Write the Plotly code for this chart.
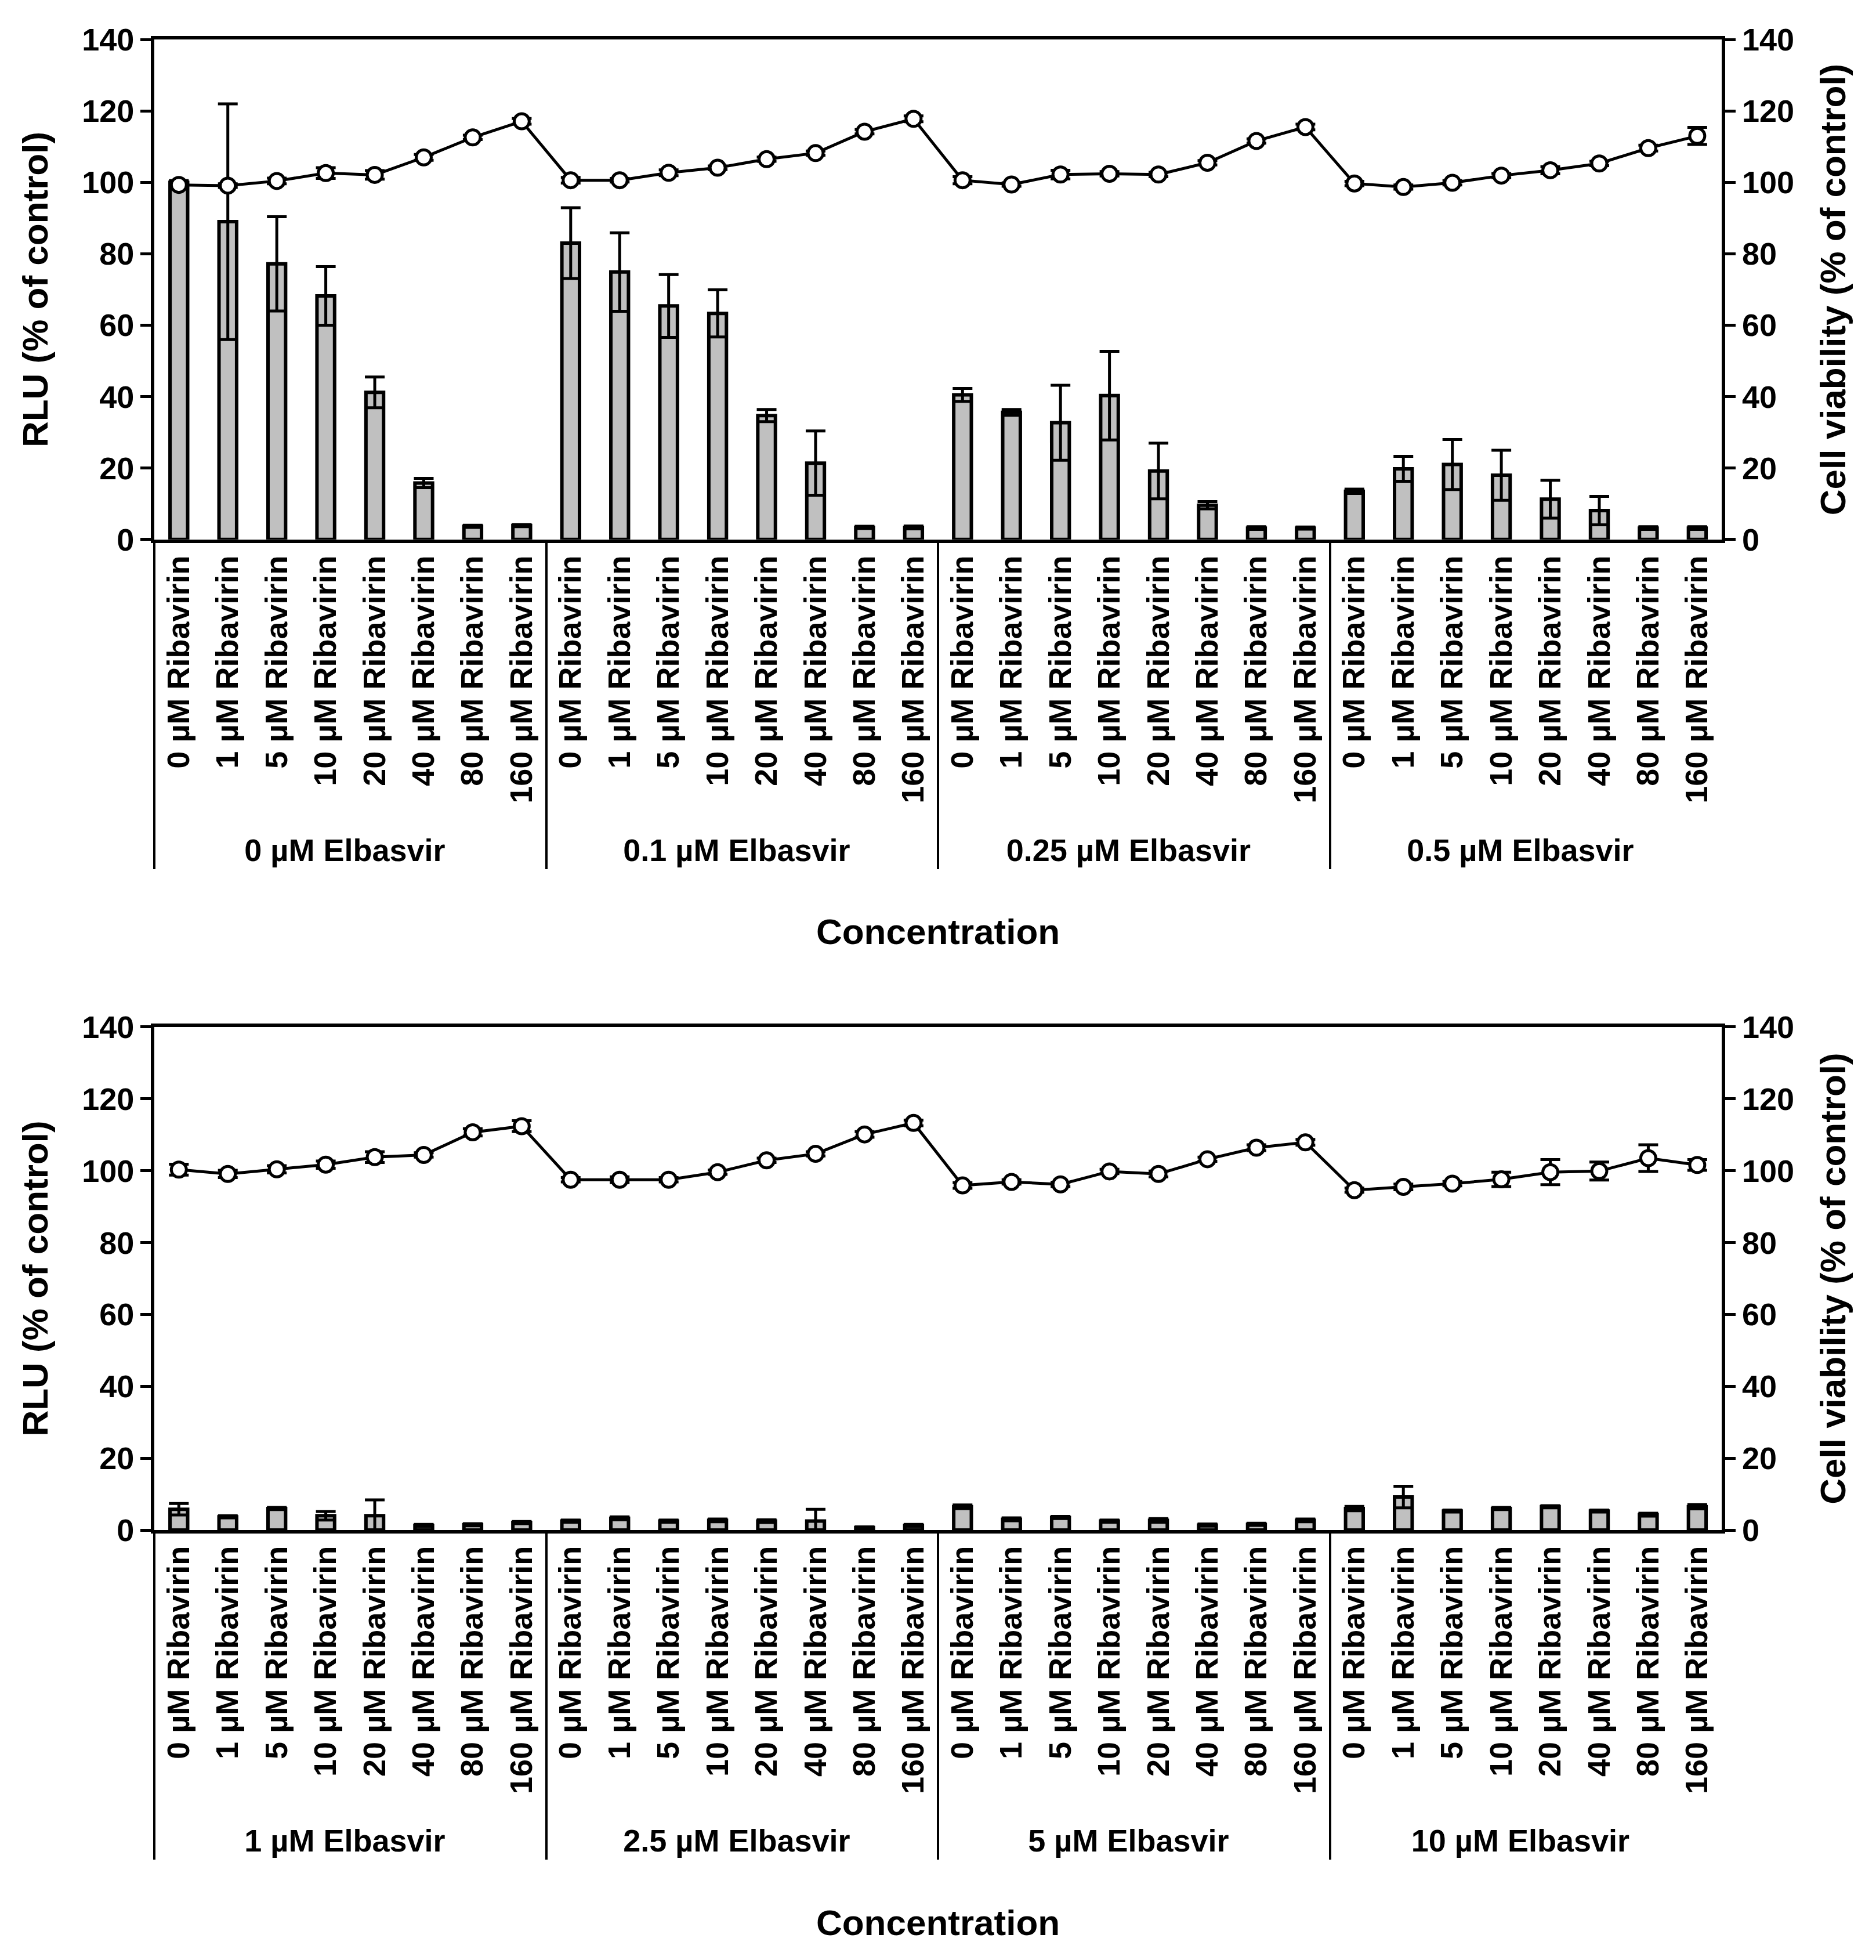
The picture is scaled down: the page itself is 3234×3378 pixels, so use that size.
import plotly.graph_objects as go

# categories
ribavirin = ["0 µM Ribavirin", "1 µM Ribavirin", "5 µM Ribavirin", "10 µM Ribavirin",
             "20 µM Ribavirin", "40 µM Ribavirin", "80 µM Ribavirin", "160 µM Ribavirin"]
elbasvir_top = ["0 µM Elbasvir", "0.1 µM Elbasvir", "0.25 µM Elbasvir", "0.5 µM Elbasvir"]
elbasvir_bottom = ["1 µM Elbasvir", "2.5 µM Elbasvir", "5 µM Elbasvir", "10 µM Elbasvir"]

# top panel - RLU bars (% of control)
rlu_top = [100.0, 89.0, 77.2, 68.2, 41.2, 15.8, 3.7, 3.9,
           83.0, 74.9, 65.4, 63.3, 34.7, 21.4, 3.4, 3.4,
           40.5, 35.6, 32.7, 40.3, 19.2, 9.6, 3.2, 3.2,
           13.5, 19.8, 21.0, 18.0, 11.3, 8.1, 3.2, 3.2]
rlu_top_err = [0.5, 33.0, 13.2, 8.2, 4.3, 1.3, 0.3, 0.3,
               9.9, 11.0, 8.8, 6.6, 1.7, 9.0, 0.3, 0.4,
               1.8, 0.8, 10.5, 12.4, 7.8, 1.0, 0.4, 0.3,
               0.6, 3.5, 7.0, 7.0, 5.3, 4.0, 0.4, 0.4]
# top panel - cell viability line
via_top = [99.3, 99.1, 100.4, 102.6, 102.1, 107.0, 112.6, 117.1,
           100.6, 100.6, 102.7, 104.1, 106.5, 108.2, 114.2, 117.8,
           100.6, 99.4, 102.2, 102.4, 102.2, 105.5, 111.6, 115.5,
           99.7, 98.7, 99.9, 101.9, 103.4, 105.3, 109.6, 113.0]
via_top_err = [0.5, 0.5, 0.8, 1.5, 1.2, 0.8, 0.6, 0.8,
               0.8, 0.5, 0.8, 0.5, 0.6, 0.6, 0.6, 0.8,
               1.0, 0.5, 1.2, 0.6, 0.6, 0.6, 0.6, 0.8,
               0.6, 0.6, 0.6, 0.6, 1.0, 0.6, 0.8, 2.4]

# bottom panel - RLU bars
rlu_bot = [5.8, 3.7, 6.0, 4.0, 4.0, 1.3, 1.5, 2.1,
           2.5, 3.3, 2.5, 2.7, 2.5, 2.5, 0.7, 1.3,
           6.5, 3.0, 3.5, 2.5, 2.7, 1.4, 1.6, 2.7,
           6.0, 9.2, 5.3, 6.0, 6.5, 5.3, 4.3, 6.5]
rlu_bot_err = [1.6, 0.3, 0.3, 1.2, 4.4, 0.3, 0.3, 0.3,
               0.3, 0.4, 0.3, 0.4, 0.4, 3.3, 0.2, 0.3,
               0.5, 0.4, 0.3, 0.3, 0.5, 0.3, 0.3, 0.4,
               0.6, 3.0, 0.3, 0.3, 0.3, 0.3, 0.4, 0.6]
# bottom panel - cell viability line
via_bot = [100.3, 99.1, 100.4, 101.7, 103.8, 104.4, 110.7, 112.4,
           97.5, 97.5, 97.5, 99.6, 102.9, 104.7, 110.1, 113.3,
           95.9, 96.9, 96.2, 99.8, 99.1, 103.2, 106.4, 107.9,
           94.6, 95.5, 96.4, 97.6, 99.6, 99.9, 103.5, 101.6]
via_bot_err = [1.5, 1.0, 1.0, 1.0, 1.5, 0.6, 1.0, 1.5,
               0.6, 0.8, 0.6, 0.6, 0.6, 0.6, 0.8, 0.8,
               0.8, 0.6, 0.6, 0.6, 0.8, 0.6, 0.8, 0.8,
               0.6, 0.8, 0.6, 2.0, 3.5, 2.5, 3.7, 1.5]

FONT = "Liberation Sans, Arial, sans-serif"
GREY = "#C0C0C0"


def multi_x(groups):
    outer = []
    inner = []
    for g in groups:
        outer += [g] * len(ribavirin)
        inner += ribavirin
    return [outer, inner]


fig = go.Figure()

panels = [
    (elbasvir_top, rlu_top, rlu_top_err, via_top, via_top_err, "x", "y", "y2"),
    (elbasvir_bottom, rlu_bot, rlu_bot_err, via_bot, via_bot_err, "x2", "y3", "y4"),
]
for groups, rlu, rlu_err, via, via_err, xa, ya, ya2 in panels:
    xcat = multi_x(groups)
    fig.add_trace(go.Bar(
        x=xcat, y=rlu, xaxis=xa, yaxis=ya, width=0.36,
        marker=dict(color=GREY, line=dict(color="black", width=6)),
        error_y=dict(type="data", array=rlu_err, color="black", thickness=5, width=17),
        showlegend=False,
    ))
    fig.add_trace(go.Scatter(
        x=xcat, y=via, xaxis=xa, yaxis=ya2, mode="lines+markers",
        line=dict(color="black", width=5),
        marker=dict(symbol="circle", size=26, color="white", line=dict(color="black", width=5)),
        error_y=dict(type="data", array=via_err, color="black", thickness=5, width=17),
        showlegend=False,
    ))

tickfont = dict(family=FONT, size=54, color="black", weight="bold")
titlefont = dict(family=FONT, size=62, color="black", weight="bold")

xdom = [0.0798, 0.9153]
top_dom = [0.7271, 0.9822]
bot_dom = [0.2217, 0.4784]


def xaxis_cfg(anchor):
    return dict(
        domain=xdom, anchor=anchor, type="multicategory", tickangle=-90,
        showline=True, mirror=True, linecolor="black", linewidth=6,
        ticks="", showgrid=False, tickfont=tickfont,
        showdividers=True, dividercolor="black", dividerwidth=4,
        range=[-0.5, 31.5],
        title=dict(text="Concentration", font=titlefont, standoff=92),
        automargin=False,
    )


def yaxis_cfg(domain, anchor, side, title, standoff, overlay=None):
    cfg = dict(
        domain=domain, anchor=anchor, side=side, range=[0, 140], dtick=20,
        ticks="outside", ticklen=18, tickwidth=5, tickcolor="black",
        showline=True, linecolor="black", linewidth=6,
        showgrid=False, zeroline=False, tickfont=tickfont,
        title=dict(text=title, font=titlefont, standoff=standoff),
        automargin=False,
    )
    if overlay:
        cfg["overlaying"] = overlay
    return cfg


fig.update_layout(
    width=3234, height=3378,
    margin=dict(l=0, r=0, t=0, b=0),
    plot_bgcolor="white", paper_bgcolor="white",
    bargap=0.6,
    xaxis=xaxis_cfg("y"),
    xaxis2=xaxis_cfg("y3"),
    yaxis=yaxis_cfg(top_dom, "x", "left", "RLU (% of control)", 40),
    yaxis2=yaxis_cfg(top_dom, "x", "right", "Cell viability (% of control)", 48, overlay="y"),
    yaxis3=yaxis_cfg(bot_dom, "x2", "left", "RLU (% of control)", 40),
    yaxis4=yaxis_cfg(bot_dom, "x2", "right", "Cell viability (% of control)", 48, overlay="y3"),
)

fig.write_html("out.html")
